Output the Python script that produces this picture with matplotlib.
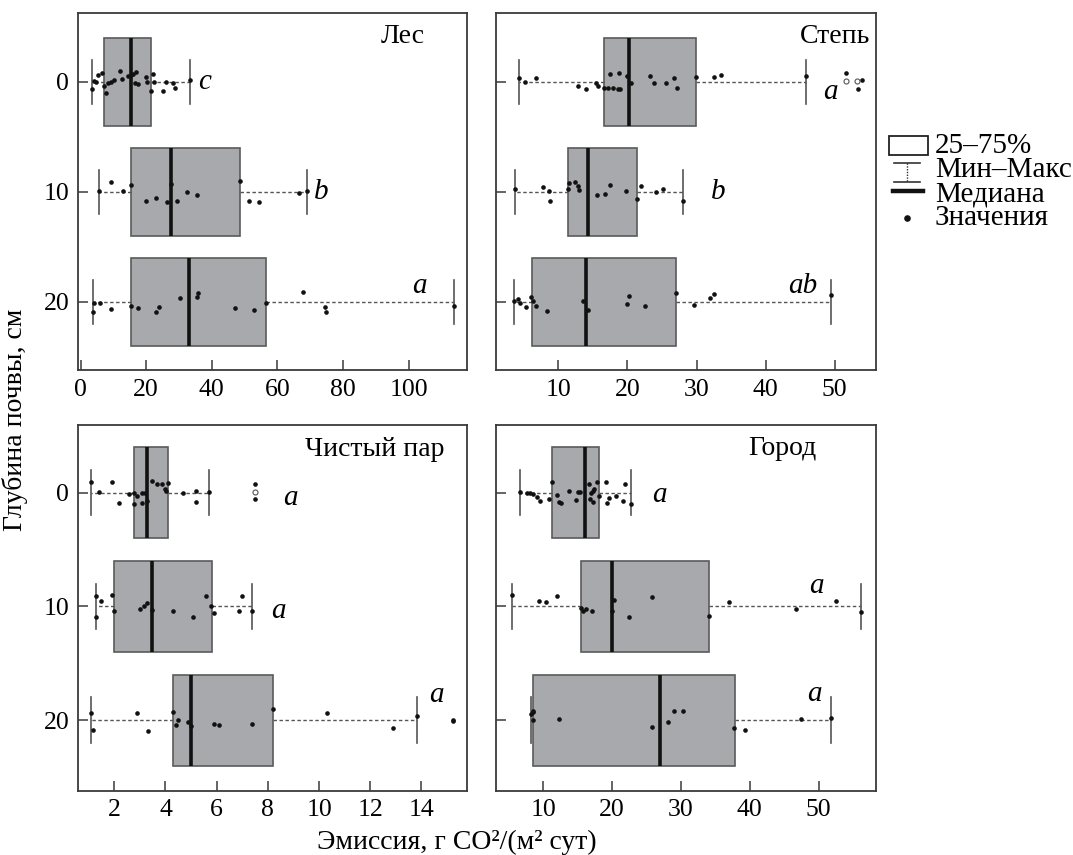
import matplotlib
matplotlib.use("Agg")
import matplotlib.pyplot as plt
from matplotlib.patches import Rectangle

plt.rcParams["font.family"] = ["Liberation Serif", "DejaVu Serif"]

depths = [0, 10, 20]

# ---- Лес ----
les_min = [3.5, 5.7, 3.7]
les_q1 = [7.1, 15.3, 15.3]
les_med = [15.2, 27.6, 32.9]
les_q3 = [21.5, 48.7, 56.4]
les_max = [33.3, 69.1, 113.7]
les_0 = [3.5, 4.1, 4.7, 5.2, 6.6, 7.1, 7.6, 8.4, 9.4, 10.2, 12.0, 12.6, 14.5, 15.2,
         16.0, 16.6, 16.9, 17.4, 19.9, 20.1, 21.6, 22.1, 22.4, 25.2, 26.0, 28.2, 28.9, 33.3]
les_0_dy = [0.69, -0.06, 0.0, -0.6, -0.82, 0.39, 1.0, 0.15, 0.0, -0.2, -0.97, -0.27, -0.52, -0.6,
            -0.7, 0.09, -0.9, 0.2, -0.45, 0.0, 0.82, -0.7, 0.0, 0.82, 0.0, 0.15, 0.6, -0.2]
les_10 = [5.7, 9.2, 12.8, 15.3, 19.9, 23.0, 26.2, 27.7, 29.5, 32.4, 35.5, 48.6, 51.3, 54.4, 66.6, 69.1]
les_10_dy = [-0.09, -0.91, -0.09, -0.6, 0.82, 0.6, 0.94, -0.7, 0.82, 0.0, 0.3, -0.97, 0.82, 0.94, 0.15, -0.06]
les_20 = [3.7, 4.1, 5.9, 9.2, 15.3, 17.4, 23.0, 24.0, 30.2, 35.4, 35.9, 47.0, 52.8, 56.4,
          67.9, 74.5, 74.7, 113.7]
les_20_dy = [0.91, 0.09, 0.09, 0.7, 0.36, 0.6, 0.91, 0.52, -0.3, -0.39, -0.76, 0.55, 0.76, 0.09,
             -0.91, 0.52, 0.91, 0.36]
les_out = []
les_out_dy = []
les_letters = ["c", "b", "a"]

# ---- Степь ----
step_min = [4.35, 3.7, 3.6]
step_q1 = [16.6, 11.4, 6.1]
step_med = [20.2, 14.35, 14.0]
step_q3 = [29.9, 21.4, 27.0]
step_max = [45.9, 28.0, 49.5]
step_0 = [4.35, 5.2, 6.8, 12.9, 14.0, 15.5, 15.8, 16.6, 17.2, 17.9, 18.6, 18.9, 17.5, 18.8,
          20.0, 20.5, 23.3, 23.8, 25.6, 26.8, 27.2, 29.9, 32.5, 33.5, 45.9, 51.6, 53.4, 53.9]
step_0_dy = [-0.3, 0.0, -0.36, 0.39, 0.7, 0.09, 0.39, 0.55, 0.6, 0.55, 0.7, 0.67, -0.7, -0.82,
             -0.52, 0.09, -0.52, 0.09, 0.09, -0.36, 0.6, -0.39, -0.42, -0.64, -0.48, -0.79, 0.7, -0.12]
step_10 = [3.7, 7.7, 8.65, 8.75, 11.4, 11.55, 12.4, 12.8, 13.0, 15.6, 16.7, 17.4, 19.8, 21.4,
           22.0, 24.2, 25.1, 28.0]
step_10_dy = [-0.24, -0.39, -0.09, 0.82, -0.24, -0.82, -0.85, -0.55, -0.15, 0.3, 0.21, -0.6,
              -0.06, 0.67, -0.55, 0.06, -0.24, 0.88]
step_20 = [3.6, 4.2, 4.45, 5.3, 6.05, 6.25, 6.7, 8.4, 13.5, 14.35, 19.9, 20.15, 22.5, 27.0,
           29.7, 32.0, 32.6, 49.5]
step_20_dy = [-0.09, -0.21, 0.09, 0.52, -0.39, -0.09, 0.36, 0.82, -0.06, 0.76, 0.24, -0.48,
              0.36, -0.76, 0.3, -0.3, -0.7, -0.6]
step_out = [51.6, 53.3]
step_out_dy = [-0.06, -0.03]
step_letters = ["a", "b", "ab"]

# ---- Чистый пар ----
par_min = [1.09, 1.29, 1.09]
par_q1 = [2.77, 1.98, 4.30]
par_med = [3.29, 3.48, 4.98]
par_q3 = [4.11, 5.80, 8.21]
par_max = [5.70, 7.37, 13.81]
par_0 = [1.09, 1.40, 1.90, 2.20, 2.57, 2.77, 2.77, 2.90, 3.07, 3.07, 3.20, 3.29, 3.48, 3.68,
         3.85, 4.0, 4.02, 4.11, 4.67, 5.19, 5.19, 5.70, 7.50, 7.50]
par_0_dy = [-0.97, -0.09, -0.91, 0.88, 0.15, 0.0, 1.0, 0.26, 0.0, 0.94, 0.06, 0.7, -1.03, -0.76,
            -0.76, -0.29, -0.15, -0.88, 0.0, -0.15, 0.79, -0.06, -0.76, 0.59]
par_10 = [1.29, 1.29, 1.48, 1.90, 1.98, 3.0, 3.16, 3.29, 3.48, 4.28, 5.09, 5.58, 5.78, 5.89,
          6.88, 7.0, 7.37]
par_10_dy = [-0.88, 0.94, -0.44, -0.97, 0.44, 0.21, -0.06, -0.29, 0.29, 0.44, 0.97, -0.88, 0.0,
             0.59, 0.38, -0.88, 0.38]
par_20 = [1.09, 1.18, 2.90, 3.30, 4.30, 4.40, 4.50, 4.89, 5.0, 5.89, 6.09, 7.39, 8.21, 10.30,
          12.90, 13.81, 15.22, 15.24]
par_20_dy = [-0.65, 0.88, -0.59, 0.94, -0.73, 0.44, 0.0, 0.15, 0.53, 0.38, 0.47, 0.35, -0.94,
             -0.59, 0.67, -0.38, 0.06, 0.0]
par_out = [7.50]
par_out_dy = [-0.03]
par_letters = ["a", "a", "a"]

# ---- Город ----
gor_min = [6.62, 5.41, 8.21]
gor_q1 = [11.31, 15.43, 8.55]
gor_med = [16.1, 19.98, 27.0]
gor_q3 = [18.1, 34.11, 37.84]
gor_max = [22.74, 56.1, 51.74]
gor_0 = [6.62, 7.58, 8.07, 8.55, 9.04, 9.52, 10.83, 11.31, 12.04, 12.28, 12.57, 13.78, 14.75,
         14.99, 15.33, 16.69, 16.78, 16.93, 17.17, 17.41, 17.27, 17.75, 18.14, 19.06, 19.21,
         19.54, 20.56, 21.62, 21.92, 22.74]
gor_0_dy = [-0.03, 0.06, 0.0, 0.12, 0.35, 0.7, 0.59, -0.97, 0.21, 0.79, 0.88, -0.18, 0.65,
            -0.03, -0.03, -0.76, 0.56, 0.06, -0.18, -0.29, 0.85, -0.97, 0.26, -0.97, 0.88,
            0.44, 0.29, 0.7, -0.73, 1.0]
gor_10 = [5.41, 9.38, 10.35, 12.04, 15.48, 15.72, 16.2, 17.12, 19.93, 20.32, 22.45, 25.79,
          34.11, 36.97, 46.65, 52.51, 56.1]
gor_10_dy = [-0.97, -0.44, -0.35, -0.88, 0.15, 0.44, 0.21, 0.44, 0.44, -0.53, 0.94, -0.79,
             0.82, -0.35, 0.23, -0.44, 0.53]
gor_20 = [8.21, 8.55, 8.45, 8.5, 12.28, 25.79, 28.06, 28.93, 30.34, 37.75, 39.35, 47.38, 51.74]
gor_20_dy = [-0.5, -0.82, -0.67, 0.0, -0.09, 0.65, 0.21, -0.82, -0.82, 0.7, 0.91, -0.06, -0.21]
gor_out = []
gor_out_dy = []
gor_letters = ["a", "a", "a"]

panels = [
    dict(title="Лес", stats=(les_min, les_q1, les_med, les_q3, les_max),
         pts=[(les_0, les_0_dy), (les_10, les_10_dy), (les_20, les_20_dy)],
         out=(les_out, les_out_dy), letters=les_letters,
         rect=[77.7, 13, 467, 370.5], xlim=(-0.9, 117.8), xticks=range(0, 101, 20),
         ylim=(26.25, -6.25), title_xy=(0.836, 0.933),
         letter_xy=[(37.9, 0.0), (73.3, 10.0), (103.4, 18.6)], ylabels=True),
    dict(title="Степь", stats=(step_min, step_q1, step_med, step_q3, step_max),
         pts=[(step_0, step_0_dy), (step_10, step_10_dy), (step_20, step_20_dy)],
         out=(step_out, step_out_dy), letters=step_letters,
         rect=[496.3, 13, 876, 370.5], xlim=(1.0, 56.0), xticks=range(10, 51, 10),
         ylim=(26.25, -6.25), title_xy=(0.892, 0.933),
         letter_xy=[(49.4, 0.9), (33.1, 10.0), (45.4, 18.6)], ylabels=False),
    dict(title="Чистый пар", stats=(par_min, par_q1, par_med, par_q3, par_max),
         pts=[(par_0, par_0_dy), (par_10, par_10_dy), (par_20, par_20_dy)],
         out=(par_out, par_out_dy), letters=par_letters,
         rect=[77.7, 425, 467, 791], xlim=(0.57, 15.78), xticks=range(2, 15, 2),
         ylim=(26.24, -5.95), title_xy=(0.764, 0.932),
         letter_xy=[(8.87, 0.5), (8.4, 10.4), (14.6, 17.8)], ylabels=True),
    dict(title="Город", stats=(gor_min, gor_q1, gor_med, gor_q3, gor_max),
         pts=[(gor_0, gor_0_dy), (gor_10, gor_10_dy), (gor_20, gor_20_dy)],
         out=(gor_out, gor_out_dy), letters=gor_letters,
         rect=[496.3, 425, 876, 791], xlim=(3.17, 58.32), xticks=range(10, 51, 10),
         ylim=(26.24, -5.95), title_xy=(0.752, 0.937),
         letter_xy=[(49.7 - 22.8, 0.2), (49.7, 8.2), (49.4, 17.7)], ylabels=False),
]

W, H = 1073, 855
fig = plt.figure(figsize=(W / 100, H / 100), dpi=100)

spine_c = "#3a3a3a"
for p in panels:
    x0, y0, x1, y1 = p["rect"]
    ax = fig.add_axes([x0 / W, 1 - y1 / H, (x1 - x0) / W, (y1 - y0) / H])
    mn, q1, md, q3, mx = p["stats"]
    bstats = [dict(med=md[i], q1=q1[i], q3=q3[i], whislo=mn[i], whishi=mx[i], fliers=[])
              for i in range(3)]
    ax.bxp(bstats, positions=depths, widths=8, orientation="horizontal", patch_artist=True,
           showfliers=False, capwidths=4, manage_ticks=False,
           boxprops=dict(facecolor="#a8a9ac", edgecolor="#5a5a5a", linewidth=1.2),
           medianprops=dict(color="#111111", linewidth=2.6),
           whiskerprops=dict(color="#555555", linewidth=1.0, linestyle=(0, (2.5, 1.8))),
           capprops=dict(color="#555555", linewidth=1.2))
    for d, (vals, dy) in zip(depths, p["pts"]):
        ax.scatter(vals, [d + j for j in dy], s=11, color="#111111", zorder=4, linewidths=0)
    ov, ody = p["out"]
    if ov:
        ax.scatter(ov, [0 + j for j in ody], s=13, facecolors="white", edgecolors="#555555",
                   linewidths=0.8, zorder=4)
    for (lx, ly), t in zip(p["letter_xy"], p["letters"]):
        ax.text(lx, ly, t, fontsize=21, style="italic", ha="center", va="center")
    ax.text(*p["title_xy"], p["title"], transform=ax.transAxes, fontsize=20,
            ha="center", va="center")
    ax.set_xlim(*p["xlim"])
    ax.set_ylim(*p["ylim"])
    ax.set_xticks(list(p["xticks"]))
    ax.set_yticks(depths)
    if not p["ylabels"]:
        ax.set_yticklabels([])
    ax.tick_params(direction="in", length=7, width=1.1, color=spine_c, labelsize=18.5, pad=6)
    for s in ax.spines.values():
        s.set_color(spine_c)
        s.set_linewidth(1.3)

fig.text(15 / W, 1 - 420 / H, "Глубина почвы, см", rotation=90, fontsize=20,
         ha="center", va="center")
fig.text(457 / W, 1 - 842 / H, "Эмиссия, г CO²/(м² сут)", fontsize=20,
         ha="center", va="center")

# legend drawn in pixel coordinates
lg = fig.add_axes([0, 0, 1, 1])
lg.set_xlim(0, W)
lg.set_ylim(H, 0)
lg.axis("off")
lg.add_patch(Rectangle((889, 136), 39, 19, facecolor="white", edgecolor="#222222", lw=1.3))
lg.plot([894, 920], [163, 163], color="#333333", lw=1.2)
lg.plot([894, 920], [182, 182], color="#333333", lw=1.2)
lg.plot([907, 907], [163, 182], color="#333333", lw=1.0, linestyle=(0, (1, 1)))
lg.plot([893, 923], [191, 191], color="#111111", lw=3.2)
lg.scatter([907], [218], s=14, color="#111111")
for ty, tt in zip([146, 170, 194, 218], ["25–75%", "Мин–Макс", "Медиана", "Значения"]):
    lg.text(935, ty, tt, fontsize=21, ha="left", va="center")

fig.savefig("out.png", dpi=100)
